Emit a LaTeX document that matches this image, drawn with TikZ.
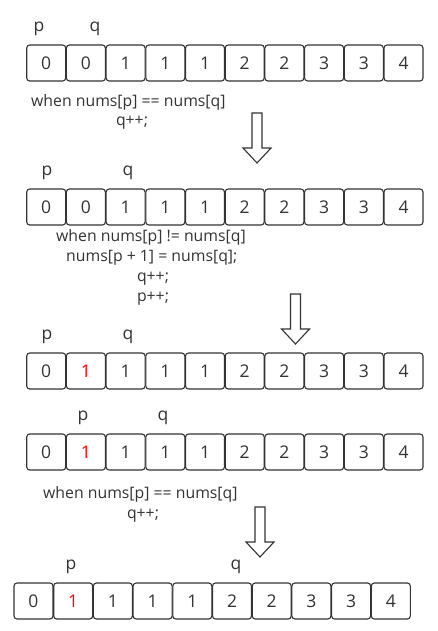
\documentclass[tikz,border=0pt]{standalone}
\usepackage{fontspec}
\setmainfont{Open Sans}
\definecolor{ink}{HTML}{333333}
\definecolor{hot}{HTML}{FF0000}
\tikzset{
  cell/.style={draw=ink, line width=1.1pt, rounded corners=3pt, minimum width=39pt,
    minimum height=36pt, inner sep=0pt, font=\fontsize{17.5}{17.5}\selectfont, text=ink},
  ptr/.style={anchor=base, font=\fontsize{17.5}{17.5}\selectfont, text=ink, inner sep=0pt},
  code/.style={font=\fontsize{15.8}{15.8}\selectfont, text=ink, inner sep=0pt},
  bigarrow/.style={draw=ink, line width=1.1pt, fill=white, line join=miter}
}
\newcommand\cellrow[4]{%
  \foreach \v [count=\i] in {#4} {
    \node[cell] (#1c\i) at ({#2+19.5+(\i-1)*39.7}, {#3+18}) {\v};
  }%
}
\newcommand\downarrowshape[4]{% cx, top, head base, tip
  \draw[bigarrow] ({#1-5},#2) -- ({#1+5},#2) -- ({#1+5},#3) -- ({#1+14},#3)
    -- (#1,#4) -- ({#1-14},#3) -- ({#1-5},#3) -- cycle;
}
\begin{document}
\begin{tikzpicture}[x=1pt,y=-1pt]
\useasboundingbox (0,0) rectangle (437,631);

% Row 1
\node[ptr] (r1p) at (39,31.5) {p};
\node[ptr] (r1q) at (95,31.5) {q};
\cellrow{r1}{26.7}{45}{0,0,1,1,1,2,2,3,3,4}
\node[code, anchor=west] (t1a) at (31,102) {when nums[p] == nums[q]};
\node[code] (t1b) at (132,123) {q++;};
\downarrowshape{257}{113}{148}{163}

% Row 2
\node[ptr] (r2p) at (47,175.5) {p};
\node[ptr] (r2q) at (128,175.5) {q};
\cellrow{r2}{26.7}{189}{0,0,1,1,1,2,2,3,3,4}
\node[code, anchor=west] (t2a) at (56,237) {when nums[p] != nums[q]};
\node[code, anchor=west] (t2b) at (66,258) {nums[p + 1] = nums[q];};
\node[code] (t2c) at (153,279) {q++;};
\node[code] (t2d) at (153,299) {p++;};
\downarrowshape{295.5}{294}{329}{344}

% Row 3
\node[ptr] (r3p) at (47,339.5) {p};
\node[ptr] (r3q) at (128,339.5) {q};
\cellrow{r3}{26.7}{353}{0,{\color{hot}1},1,1,1,2,2,3,3,4}

% Row 4
\node[ptr] (r4p) at (83,420.5) {p};
\node[ptr] (r4q) at (163,420.5) {q};
\cellrow{r4}{26.7}{434}{0,{\color{hot}1},1,1,1,2,2,3,3,4}
\node[code, anchor=west] (t4a) at (43,494) {when nums[p] == nums[q]};
\node[code] (t4b) at (143,516) {q++;};
\downarrowshape{260}{507}{542}{557}

% Row 5
\node[ptr] (r5p) at (71,569.5) {p};
\node[ptr] (r5q) at (236,569.5) {q};
\cellrow{r5}{14}{583}{0,{\color{hot}1},1,1,1,2,2,3,3,4}
\end{tikzpicture}
\end{document}
